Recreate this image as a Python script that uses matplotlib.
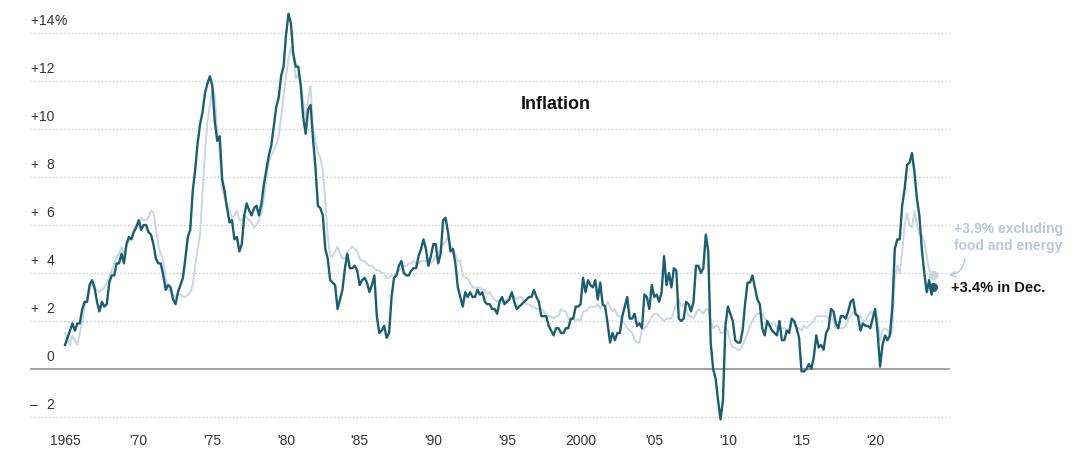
import numpy as np
import matplotlib.pyplot as plt

# year-over-year change in consumer prices, sampled every other month
# (Jan, Mar, May, Jul, Sep, Nov), 1965 to 2023, then Dec 2023
cpi = [
    1.0, 1.3, 1.6, 1.9, 1.6, 1.9,    # 1965
    1.9, 2.5, 2.8, 2.8, 3.5, 3.7,    # 1966
    3.4, 2.8, 2.4, 2.8, 2.6, 2.7,    # 1967
    3.6, 3.9, 3.9, 4.4, 4.4, 4.8,    # 1968
    4.4, 5.2, 5.5, 5.4, 5.7, 5.9,    # 1969
    6.2, 5.8, 6.0, 6.0, 5.7, 5.6,    # 1970
    5.2, 4.6, 4.4, 4.4, 3.9, 3.3,    # 1971
    3.5, 3.4, 2.9, 2.7, 3.2, 3.5,    # 1972
    3.8, 4.6, 5.5, 5.8, 7.4, 8.3,    # 1973
    9.4, 10.2, 10.7, 11.5, 11.9, 12.2,   # 1974
    11.8, 10.3, 9.5, 9.7, 7.9, 7.4,  # 1975
    6.7, 6.1, 6.2, 5.4, 5.5, 4.9,    # 1976
    5.2, 6.4, 6.9, 6.6, 6.4, 6.7,    # 1977
    6.8, 6.4, 6.9, 7.7, 8.3, 8.9,    # 1978
    9.3, 10.1, 10.9, 11.3, 12.2, 12.6,   # 1979
    13.9, 14.8, 14.4, 13.1, 12.6, 12.6,  # 1980
    11.8, 10.5, 9.8, 10.8, 11.0, 9.6,    # 1981
    8.4, 6.8, 6.7, 6.4, 5.0, 4.6,    # 1982
    3.7, 3.6, 3.5, 2.5, 2.9, 3.3,    # 1983
    4.2, 4.8, 4.2, 4.2, 4.3, 4.1,    # 1984
    3.5, 3.7, 3.8, 3.6, 3.2, 3.5,    # 1985
    3.9, 2.2, 1.5, 1.6, 1.8, 1.3,    # 1986
    1.5, 3.0, 3.8, 3.9, 4.3, 4.5,    # 1987
    4.0, 3.9, 3.9, 4.1, 4.2, 4.2,    # 1988
    4.7, 5.0, 5.4, 5.0, 4.3, 4.7,    # 1989
    5.2, 5.2, 4.4, 4.8, 6.2, 6.3,    # 1990
    5.7, 4.9, 5.0, 4.4, 3.4, 3.0,    # 1991
    2.6, 3.2, 3.0, 3.2, 3.0, 3.0,    # 1992
    3.3, 3.1, 3.2, 2.8, 2.7, 2.7,    # 1993
    2.5, 2.5, 2.3, 2.8, 3.0, 2.7,    # 1994
    2.8, 2.9, 3.2, 2.8, 2.5, 2.6,    # 1995
    2.7, 2.8, 2.9, 3.0, 3.0, 3.3,    # 1996
    3.0, 2.8, 2.2, 2.2, 2.2, 1.8,    # 1997
    1.6, 1.4, 1.7, 1.7, 1.5, 1.5,    # 1998
    1.7, 1.7, 2.1, 2.1, 2.6, 2.6,    # 1999
    2.7, 3.8, 3.2, 3.7, 3.5, 3.4,    # 2000
    3.7, 2.9, 3.6, 2.7, 2.6, 1.9,    # 2001
    1.1, 1.5, 1.2, 1.5, 1.5, 2.2,    # 2002
    2.6, 3.0, 2.1, 2.1, 2.3, 1.8,    # 2003
    1.9, 1.7, 3.1, 3.0, 2.5, 3.5,    # 2004
    3.0, 3.1, 2.8, 3.2, 4.7, 3.5,    # 2005
    4.0, 3.4, 4.2, 4.1, 2.1, 2.0,    # 2006
    2.1, 2.8, 2.7, 2.4, 2.8, 4.3,    # 2007
    4.3, 4.0, 4.2, 5.6, 4.9, 1.1,    # 2008
    0.0, -0.4, -1.3, -2.1, -1.3, 1.8,    # 2009
    2.6, 2.3, 2.0, 1.2, 1.1, 1.1,    # 2010
    1.6, 2.7, 3.6, 3.6, 3.9, 3.4,    # 2011
    2.9, 2.7, 1.7, 1.4, 2.0, 1.8,    # 2012
    1.6, 1.5, 1.4, 2.0, 1.2, 1.2,    # 2013
    1.6, 1.5, 2.1, 2.0, 1.7, 1.3,    # 2014
    -0.1, -0.1, 0.0, 0.2, 0.0, 0.5,  # 2015
    1.4, 0.9, 1.0, 0.8, 1.5, 1.7,    # 2016
    2.5, 2.4, 1.9, 1.7, 2.2, 2.2,    # 2017
    2.1, 2.4, 2.8, 2.9, 2.3, 2.2,    # 2018
    1.6, 1.9, 1.8, 1.8, 1.7, 2.1,    # 2019
    2.5, 1.5, 0.1, 1.0, 1.4, 1.2,    # 2020
    1.4, 2.6, 5.0, 5.4, 5.4, 6.8,    # 2021
    7.5, 8.5, 8.6, 9.0, 8.2, 7.1,    # 2022
    6.4, 5.0, 4.0, 3.2, 3.7, 3.1,    # 2023
    3.4,                             # Dec 2023
]

# same, excluding food and energy
core = [
    1.5, 1.3, 1.0, 1.4, 1.2, 1.0,    # 1965
    1.5, 2.0, 2.6, 3.0, 3.4, 3.5,    # 1966
    3.3, 3.3, 3.2, 3.3, 3.4, 3.6,    # 1967
    3.8, 4.1, 4.4, 4.7, 4.8, 5.1,    # 1968
    4.7, 5.1, 5.3, 5.5, 5.8, 6.0,    # 1969
    6.0, 6.3, 6.2, 6.2, 6.3, 6.6,    # 1970
    6.5, 5.9, 5.1, 4.8, 4.5, 3.8,    # 1971
    3.3, 3.2, 3.1, 3.0, 3.1, 3.1,    # 1972
    3.0, 3.0, 3.1, 3.2, 3.5, 4.3,    # 1973
    5.0, 5.6, 7.4, 9.0, 10.3, 11.0,  # 1974
    11.7, 11.4, 9.9, 8.9, 7.5, 7.1,  # 1975
    6.8, 6.6, 6.3, 6.4, 6.6, 6.2,    # 1976
    6.2, 6.4, 6.3, 6.2, 6.1, 5.9,    # 1977
    6.0, 6.2, 6.5, 7.1, 7.9, 8.6,    # 1978
    8.9, 9.1, 9.3, 9.7, 10.5, 11.4,  # 1979
    12.2, 12.9, 13.4, 13.0, 12.1, 12.3,  # 1980
    12.0, 11.2, 10.4, 11.2, 11.8, 10.0,  # 1981
    9.5, 9.0, 8.8, 8.3, 7.0, 5.5,    # 1982
    4.7, 4.7, 4.9, 5.1, 4.8, 4.6,    # 1983
    4.6, 4.9, 5.0, 5.1, 5.0, 4.9,    # 1984
    4.6, 4.5, 4.5, 4.4, 4.3, 4.3,    # 1985
    4.2, 4.1, 4.1, 4.0, 4.0, 3.8,    # 1986
    3.8, 3.9, 3.9, 4.0, 4.1, 4.2,    # 1987
    4.3, 4.3, 4.4, 4.4, 4.5, 4.4,    # 1988
    4.4, 4.5, 4.5, 4.5, 4.4, 4.4,    # 1989
    4.5, 4.7, 4.8, 5.0, 5.2, 5.3,    # 1990
    5.5, 5.2, 5.0, 4.8, 4.5, 4.5,    # 1991
    3.9, 3.8, 3.8, 3.6, 3.4, 3.4,    # 1992
    3.4, 3.4, 3.3, 3.3, 3.1, 3.2,    # 1993
    3.0, 2.9, 2.8, 2.9, 2.9, 2.8,    # 1994
    2.9, 3.0, 3.1, 3.0, 2.9, 3.0,    # 1995
    3.0, 2.8, 2.7, 2.7, 2.6, 2.6,    # 1996
    2.5, 2.5, 2.5, 2.4, 2.2, 2.2,    # 1997
    2.2, 2.1, 2.2, 2.2, 2.5, 2.4,    # 1998
    2.4, 2.1, 2.0, 2.1, 2.0, 2.1,    # 1999
    2.0, 2.4, 2.4, 2.5, 2.6, 2.6,    # 2000
    2.6, 2.7, 2.5, 2.7, 2.6, 2.8,    # 2001
    2.6, 2.4, 2.5, 2.2, 2.2, 2.0,    # 2002
    1.9, 1.7, 1.6, 1.5, 1.2, 1.1,    # 2003
    1.1, 1.6, 1.7, 1.8, 2.0, 2.2,    # 2004
    2.3, 2.3, 2.2, 2.1, 2.0, 2.1,    # 2005
    2.1, 2.1, 2.4, 2.7, 2.9, 2.6,    # 2006
    2.7, 2.5, 2.2, 2.2, 2.1, 2.3,    # 2007
    2.5, 2.4, 2.3, 2.5, 2.5, 2.0,    # 2008
    1.7, 1.8, 1.8, 1.5, 1.5, 1.7,    # 2009
    1.6, 1.1, 0.9, 0.9, 0.8, 0.8,    # 2010
    1.0, 1.2, 1.5, 1.8, 2.0, 2.2,    # 2011
    2.3, 2.3, 2.3, 2.1, 2.0, 1.9,    # 2012
    1.9, 1.9, 1.7, 1.7, 1.7, 1.7,    # 2013
    1.6, 1.7, 2.0, 1.9, 1.7, 1.7,    # 2014
    1.6, 1.8, 1.7, 1.8, 1.9, 2.0,    # 2015
    2.2, 2.2, 2.2, 2.2, 2.2, 2.1,    # 2016
    2.3, 2.0, 1.7, 1.7, 1.7, 1.7,    # 2017
    1.8, 2.1, 2.2, 2.4, 2.2, 2.2,    # 2018
    2.2, 2.0, 2.0, 2.2, 2.4, 2.3,    # 2019
    2.3, 2.1, 1.2, 1.6, 1.7, 1.6,    # 2020
    1.4, 1.6, 3.8, 4.3, 4.0, 4.9,    # 2021
    6.0, 6.5, 6.0, 5.9, 6.6, 6.0,    # 2022
    5.6, 5.6, 5.3, 4.7, 4.1, 4.0,    # 2023
    3.9,                             # Dec 2023
]

years = np.arange(1965, 2024)
dates = (years[:, None] + np.arange(0, 12, 2)[None, :] / 12).ravel()
dates = np.append(dates, 2023 + 11 / 12)

ytick_vals = [14, 12, 10, 8, 6, 4, 2, 0, -2]
ytick_signs = ["+", "+", "+", "+", "+", "+", "+", "", "\u2013"]
ytick_nums = ["14", "12", "10", "8", "6", "4", "2", "0", "2"]
xtick_vals = [1965, 1970, 1975, 1980, 1985, 1990, 1995, 2000, 2005, 2010, 2015, 2020]
xtick_labels = ["1965", "'70", "'75", "'80", "'85", "'90", "'95", "2000", "'05", "'10", "'15", "'20"]

dark = "#1b5e70"
light = "#c9d6e5"
note = "#b7c8dc"

plt.rcParams["font.family"] = ["Liberation Sans", "DejaVu Sans"]

fig = plt.figure(figsize=(10.8, 4.6), dpi=100)
ax = fig.add_axes([30 / 1080, 30 / 460, 920 / 1080, 420 / 460])
ax.set_xlim(1962.62, 2025.08)
ax.set_ylim(-2.5, 15)

# grid lines and zero line
for v in ytick_vals:
    if v == 0:
        ax.axhline(0, color="#9a9a9a", lw=1.3, zorder=1)
    else:
        ax.axhline(v, color="#c4c4c4", lw=0.9, ls=(0, (1, 2)), zorder=1)

# y labels sit above their grid line, sign on the left, digits lined up right
for v, s, n in zip(ytick_vals, ytick_signs, ytick_nums):
    ax.text(0.0, v + 0.25, s, transform=ax.get_yaxis_transform(),
            ha="left", va="bottom", fontsize=10, color="#333333")
    ax.text(0.0265, v + 0.25, n, transform=ax.get_yaxis_transform(),
            ha="right", va="bottom", fontsize=10, color="#333333")
ax.text(0.0265, 14.25, "%", transform=ax.get_yaxis_transform(),
        ha="left", va="bottom", fontsize=10, color="#333333")

ax.plot(dates, core, color=light, lw=1.4, zorder=2)
ax.plot(dates, cpi, color=dark, lw=1.7, zorder=3)
ax.plot(dates[-1], core[-1], "o", color=light, ms=6, zorder=4, clip_on=False)
ax.plot(dates[-1], cpi[-1], "o", color=dark, ms=5.5, zorder=4, clip_on=False)

ax.annotate("+%.1f%% in Dec." % cpi[-1], xy=(dates[-1], cpi[-1]),
            xytext=(13, 0), textcoords="offset points", ha="left", va="center",
            fontsize=10.5, fontweight="bold", color="#111111", annotation_clip=False)
ax.annotate("+%.1f%% excluding\nfood and energy" % core[-1], xy=(dates[-1], core[-1]),
            xytext=(15, 28), textcoords="offset points", ha="left", va="center",
            fontsize=10, fontweight="bold", color=note, linespacing=1.3,
            annotation_clip=False)
ax.annotate("", xy=(dates[-1] + 0.9, core[-1]), xytext=(dates[-1] + 2.2, core[-1] + 0.8),
            arrowprops=dict(arrowstyle="->", color=note, lw=1.0,
                            connectionstyle="arc3,rad=-0.45"),
            annotation_clip=False)

ax.text(0.571, 0.774, "Inflation", transform=ax.transAxes, ha="center", va="center",
        fontsize=13, fontweight="bold", color="#111111")

ax.set_xticks(xtick_vals)
ax.set_xticklabels(xtick_labels, fontsize=10, color="#333333")
ax.tick_params(axis="x", length=0, pad=3)
ax.set_yticks([])
for sp in ax.spines.values():
    sp.set_visible(False)

fig.savefig("out.png", dpi=100)
